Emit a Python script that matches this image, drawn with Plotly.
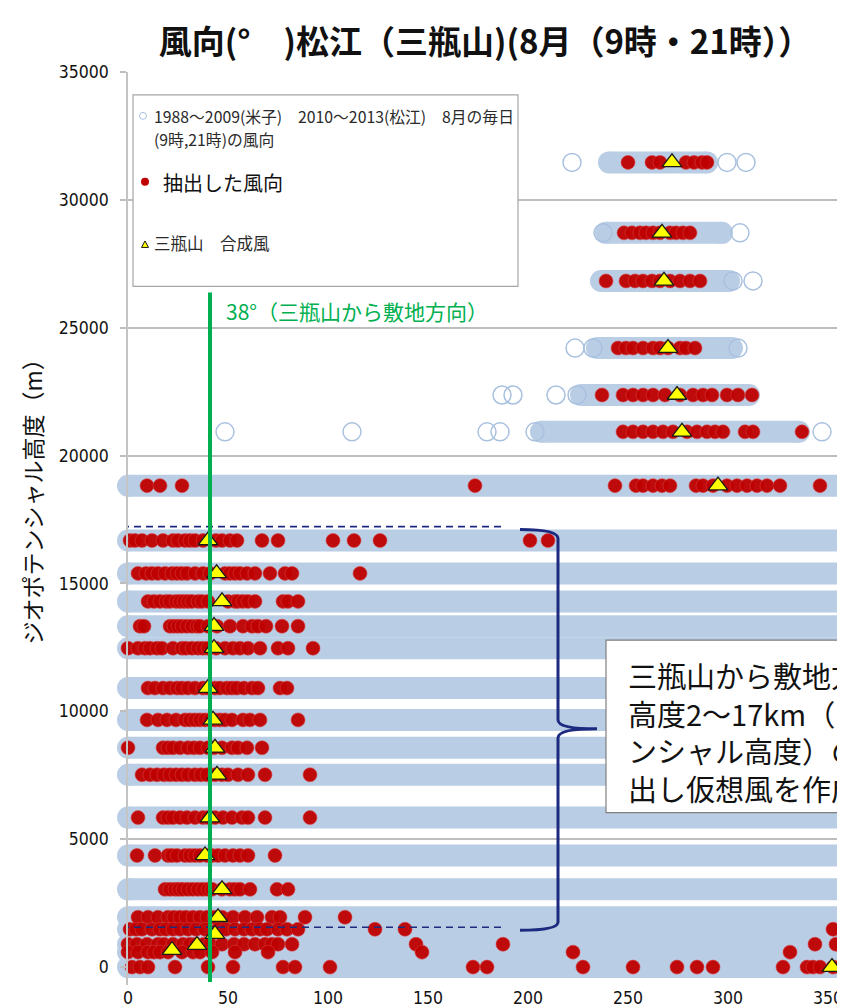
import plotly.graph_objects as go

# ---------------- data ----------------
# light-blue bands: all observed wind directions per geopotential height level
band_heights = [31465, 28710, 26830, 24205, 22370, 20930, 18825, 16680, 15395, 14300,
                13330, 12470, 10910, 9665, 8575, 7520, 5845, 4365, 3040, 1950, 1480, 895, 585, 0]
band_dir_min = [240.5, 239, 236.5, 234.5, 226.5, 206.5, 0, 0, 0, 0,
                0, 0, 0, 0, 0, 0, 0, 0, 0, 0, 0, 0, 0, 0]
band_dir_max = [289.5, 297, 300.5, 302, 310.5, 335.5, 360, 360, 360, 360,
                360, 360, 360, 360, 360, 360, 360, 360, 360, 360, 360, 360, 360, 360]

# isolated observed directions (open circles)
open_heights = [31465, 31465, 31465, 28710, 28710, 26830, 26830, 24205, 24205, 24205,
                22370, 22370, 22370, 22370, 20930, 20930, 20930, 20930, 20930, 20930]
open_dirs = [222, 299.5, 309, 237.5, 306, 302.5, 312.5, 223.5, 232.5, 305,
             187, 192.5, 214, 224.5, 48.5, 112, 179.5, 186, 203.5, 347]

# extracted wind directions (red dots), one list per level
red_levels = [31465, 28710, 26830, 24205, 22370, 20930, 18825, 16680, 15395, 14300,
              13330, 12470, 10910, 9665, 8575, 7520, 5845, 4365, 3040, 1950, 1480, 895, 585, 0]
red_dirs = [
    [250, 262, 266, 279, 283, 287, 289.5],
    [248, 252, 256, 259, 262.5, 266, 271, 274, 277.5, 281],
    [239, 249, 253.5, 257.5, 262, 266, 271, 276, 281, 286],
    [245, 249, 252.5, 257.5, 262.5, 266, 270, 276, 279, 283.5],
    [237, 247.5, 252.5, 257.5, 262.5, 268.5, 276, 282.5, 287.5, 292, 299.5, 305, 312],
    [247.5, 252.5, 257.5, 262.5, 267.5, 272.5, 279.5, 284.5, 289.5, 293.5, 297.5, 308.5, 312.5, 337],
    [9.5, 16, 27, 173.5, 243.5, 254, 257.5, 262.5, 267, 271, 284, 287.5, 292.5, 299.5,
     304.5, 309.5, 314.5, 319.5, 326, 346],
    [1, 3.5, 7, 12, 17.5, 22.5, 25, 28.5, 31, 33.5, 37.5, 44, 47, 51, 54.5, 67, 75,
     102.5, 113, 126, 201, 210],
    [5, 9, 12, 15, 18.5, 22, 24.5, 27, 29.5, 33.5, 37.5, 41, 48.5, 51, 53.5, 56, 59.5,
     63.5, 71, 78.5, 82, 116],
    [10, 13, 16, 19, 21, 24, 26, 28, 30, 32, 35, 37, 40, 50, 53.5, 55, 57.5, 60, 63.5,
     77.5, 80, 85],
    [6, 8, 21, 23, 25, 27, 29.5, 32, 34.5, 36, 40, 44.5, 51, 57.5, 62, 65, 69, 77, 85],
    [0, 5, 8.5, 11, 14.5, 17, 22.5, 27, 29, 32, 35, 37.5, 40, 44, 48.5, 52.5, 56, 60,
     66, 75, 80, 92.5],
    [10, 13.5, 17.5, 21, 24.5, 27, 30, 33.5, 37.5, 40, 43.5, 46, 49.5, 52, 54.5, 58, 62,
     65, 76, 79.5],
    [9.5, 15, 19.5, 24, 28.5, 31, 33.5, 36, 38.5, 41, 43.5, 46, 48.5, 52, 57.5, 61, 66, 85],
    [0, 17.5, 20, 22.5, 26, 30, 33, 36, 40, 43, 47, 52, 55, 59.5, 67],
    [7, 11, 14.5, 18, 21, 24, 27, 30, 33.5, 36.5, 39.5, 43.5, 47, 50, 55, 60, 68.5, 91],
    [5, 17.5, 20, 22.5, 26, 29.5, 33.5, 37.5, 40, 43.5, 47.5, 52, 57, 60, 68.5, 91],
    [4.5, 13.5, 20, 22, 24.5, 28.5, 31, 33.5, 36, 39.5, 42, 45, 48.5, 52.5, 56, 60, 73.5],
    [18.5, 21, 23.5, 25.5, 27.5, 30, 32.5, 35, 37.5, 40, 42, 47, 51, 53.5, 56, 61, 74.5, 80],
    [5, 10, 15, 20, 23, 26, 29, 32.5, 36, 39.5, 43, 47, 52.5, 58.5, 64.5, 72, 76, 88.5, 108.5],
    [1, 4, 7, 12, 16, 19, 22.5, 26, 30, 34, 38.5, 45, 49, 53.5, 58, 62, 66, 69.5, 75,
     79.5, 85, 123.5, 138.5, 352.5],
    [0, 4.5, 9.5, 15, 18, 22.5, 27.5, 31, 34, 38, 41, 47, 53, 58, 63.5, 68.5, 72, 75, 82,
     144, 187.5, 343.5, 354],
    [0, 5, 10, 13, 16, 20, 27, 32.5, 36, 42, 53.5, 70, 147, 222.5, 331],
    [2, 6, 10, 23.5, 40, 52.5, 77.5, 83.5, 101, 172.5, 179.5, 227.5, 252.5, 274.5, 284.5,
     292.5, 327.5, 339.5, 342.5, 346, 352.5, 356],
]

# composite wind of Sanbesan (yellow triangles)
tri_heights = [31465, 28710, 26830, 24205, 22370, 20930, 18825, 16680, 15395, 14300, 13330,
               12470, 10910, 9665, 8575, 7520, 5845, 4365, 3040, 1950, 1290, 860, 660, 0]
tri_dirs = [272, 267, 268, 270, 274.5, 277, 295, 40, 44.3, 47, 43,
            43, 40, 42.5, 43.5, 44.5, 41, 38.5, 47, 45, 43.5, 34.5, 22, 352]

# guide lines
green_dir = 41
green_height_range = [-580, 26380]
dash_dir_range = [-3, 188]
dash_heights = [17225, 1560]
bracket_x = [196, 215, 234.5]
bracket_y = [17110, 16760, 9666, 9315, 8964, 1754, 1442]

x_ticks = [0, 50, 100, 150, 200, 250, 300, 350]
y_ticks = [0, 5000, 10000, 15000, 20000, 25000, 30000, 35000]

title_text = "風向(°　)松江（三瓶山)(8月（9時・21時））"
ytitle_text = "ジオポテンシャル高度（m）"
legend_lines = ["1988～2009(米子)　2010～2013(松江)　8月の毎日", "(9時,21時)の風向",
                "抽出した風向", "三瓶山　合成風"]
green_label = "38°（三瓶山から敷地方向）"
box_lines = ["三瓶山から敷地方向の", "高度2～17km（ジオポテ", "ンシャル高度）の風向を抽", "出し仮想風を作成"]

# ---------------- styling ----------------
OFF = 8                      # page body margin of the html page
SW, SH = 845, 1008           # screen size
W, H = SW - OFF, SH - OFF    # figure size
SL, ST, SB = 128, 72, 988    # plot area edges in screen pixels
PW, PH = SW - SL, SB - ST
BAND = "#b9cde5"
RED = "#c00000"
NAVY = "#1c2b80"
GREEN = "#00b050"
JP = "Noto Sans CJK JP"
NUM = "Liberation Sans Narrow, DejaVu Sans Condensed, Liberation Sans, sans-serif"


def px(x):
    return (x - SL) / PW


def py(y):
    return (SB - y) / PH


fig = go.Figure()

bx, by = [], []
for h, a, b in zip(band_heights, band_dir_min, band_dir_max):
    bx += [a, b, None]
    by += [h, h, None]
fig.add_trace(go.Scatter(x=bx, y=by, mode="lines+markers",
                         line=dict(color=BAND, width=22),
                         marker=dict(size=22, color=BAND),
                         cliponaxis=False, hoverinfo="skip", showlegend=False))

fig.add_trace(go.Scatter(x=open_dirs, y=open_heights, mode="markers",
                         marker=dict(symbol="circle-open", size=18, color="#a9c1df",
                                     line=dict(width=1.5)),
                         cliponaxis=False, hoverinfo="skip", showlegend=False))

rx, ry = [], []
for h, ds in zip(red_levels, red_dirs):
    rx += ds
    ry += [h] * len(ds)
fig.add_trace(go.Scatter(x=rx, y=ry, mode="markers",
                         marker=dict(size=14, color=RED, opacity=0.95,
                                     line=dict(width=0.6, color="#d84040")),
                         cliponaxis=False, hoverinfo="skip", showlegend=False))

fig.add_trace(go.Scatter(x=tri_dirs, y=tri_heights, mode="markers",
                         marker=dict(symbol="triangle-up", size=17, color="#ffff00",
                                     line=dict(width=1.3, color="#1a1a1a")),
                         cliponaxis=False, hoverinfo="skip", showlegend=False))

for h in dash_heights:
    fig.add_trace(go.Scatter(x=dash_dir_range, y=[h, h], mode="lines",
                             line=dict(color=NAVY, width=1.6, dash="7px,5px"),
                             hoverinfo="skip", showlegend=False))

fig.add_trace(go.Scatter(x=[green_dir, green_dir], y=green_height_range, mode="lines",
                         line=dict(color=GREEN, width=4),
                         hoverinfo="skip", showlegend=False))

x0, xv, xt = bracket_x
y1, y2, y3, y4, y5, y6, y7 = bracket_y
bracket_path = (f"M {x0},{y1} Q {xv},{y1} {xv},{y2} L {xv},{y3} "
                f"Q {xv},{y4} {xt},{y4} Q {xv},{y4} {xv},{y5} L {xv},{y6} "
                f"Q {xv},{y7} {x0},{y7}")

shapes = [
    dict(type="path", xref="x", yref="y", path=bracket_path,
         line=dict(color=NAVY, width=3), layer="above"),
    # legend box
    dict(type="rect", xref="paper", yref="paper", x0=px(133), x1=px(518), y0=py(287), y1=py(95),
         line=dict(color="#a6a6a6", width=1.2), fillcolor="white", layer="above"),
    dict(type="circle", xref="paper", yref="paper", xsizemode="pixel", ysizemode="pixel",
         xanchor=px(143), yanchor=py(116), x0=-3.5, x1=3.5, y0=-3.5, y1=3.5,
         line=dict(color="#a9c1df", width=1), layer="above"),
    dict(type="circle", xref="paper", yref="paper", xsizemode="pixel", ysizemode="pixel",
         xanchor=px(145), yanchor=py(182), x0=-4, x1=4, y0=-4, y1=4,
         fillcolor=RED, line=dict(color=RED, width=0), layer="above"),
    dict(type="path", xref="paper", yref="paper", xsizemode="pixel", ysizemode="pixel",
         xanchor=px(145), yanchor=py(245), path="M -3.5,-3 L 3.5,-3 L 0,3.5 Z",
         fillcolor="#ffff00", line=dict(color="#1a1a1a", width=1), layer="above"),
    # explanation box
    dict(type="rect", xref="paper", yref="paper", x0=px(606), x1=px(870), y0=py(815), y1=py(642),
         line=dict(color="#7f7f7f", width=1.2), fillcolor="white", layer="above"),
]

annotations = [
    dict(text=legend_lines[0], xref="paper", yref="paper", x=px(152), y=py(117),
         xanchor="left", yanchor="middle", showarrow=False,
         font=dict(family=JP, size=15.8, color="#2a2a2a")),
    dict(text=legend_lines[1], xref="paper", yref="paper", x=px(152), y=py(140),
         xanchor="left", yanchor="middle", showarrow=False,
         font=dict(family=JP, size=15.8, color="#2a2a2a")),
    dict(text=legend_lines[2], xref="paper", yref="paper", x=px(161), y=py(183),
         xanchor="left", yanchor="middle", showarrow=False,
         font=dict(family=JP, size=20, color="#111111")),
    dict(text=legend_lines[3], xref="paper", yref="paper", x=px(152), y=py(244),
         xanchor="left", yanchor="middle", showarrow=False,
         font=dict(family=JP, size=16.5, color="#2a2a2a")),
    dict(text=green_label, xref="paper", yref="paper", x=px(224), y=py(312),
         xanchor="left", yanchor="middle", showarrow=False,
         font=dict(family=JP, size=21, color=GREEN)),
    dict(text=ytitle_text, xref="paper", yref="paper", x=px(32), y=py(498),
         xanchor="center", yanchor="middle", showarrow=False, textangle=-90,
         font=dict(family=JP, size=23, color="#111111")),
    dict(text="<br>".join(box_lines), xref="paper", yref="paper", x=px(626), y=py(734),
         xanchor="left", yanchor="middle", align="left", showarrow=False,
         font=dict(family=JP, size=29, color="#111111")),
]

fig.update_layout(
    width=W, height=H,
    margin=dict(l=SL - OFF, r=0, t=ST - OFF, b=SH - SB, pad=0),
    paper_bgcolor="white", plot_bgcolor="white",
    title=dict(text=title_text, x=(485 - OFF) / W, xref="container", xanchor="center",
               y=1 - (42 - OFF) / H, yref="container", yanchor="middle",
               font=dict(family=JP, size=33, color="#111111", weight="bold")),
    xaxis=dict(range=[0, 358.5], tickvals=x_ticks, ticktext=[str(v) for v in x_ticks],
               showgrid=False, zeroline=False, showline=False, ticks="",
               tickfont=dict(family=NUM, size=17.5, color="#111111")),
    yaxis=dict(range=[-700, 35000], tickvals=y_ticks, ticktext=[str(v) for v in y_ticks],
               showgrid=True, gridcolor="#bdbdbd", gridwidth=1.5, zeroline=False,
               showline=True, linecolor="#c4c4c4", linewidth=1.5,
               ticks="outside", ticklen=6, tickcolor="#bdbdbd", tickwidth=1.5,
               ticklabelstandoff=8,
               tickfont=dict(family=NUM, size=17.5, color="#111111")),
    shapes=shapes, annotations=annotations, showlegend=False,
)

fig.write_html("out.html")
